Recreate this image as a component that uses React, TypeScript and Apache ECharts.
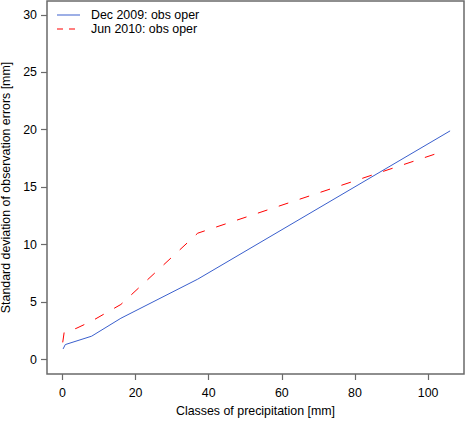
import React, { useEffect, useRef } from "react";
import * as echarts from "echarts";

const seriesNames = ["Dec 2009: obs oper", "Jun 2010: obs oper"];
const decX = [0.2, 0.8, 8, 16, 37, 106];
const decY = [0.93, 1.31, 2.04, 3.6, 7.0, 19.9];
const junX = [0.1, 0.5, 2, 4, 8, 16, 37, 103];
const junY = [1.5, 2.4, 2.5, 2.75, 3.35, 4.8, 11.0, 18.0];
const xTicks = [0, 20, 40, 60, 80, 100];
const yTicks = [0, 5, 10, 15, 20, 25, 30];
const xTitle = "Classes of precipitation [mm]";
const yTitle = "Standard deviation of observation errors [mm]";

const FONT = "Liberation Sans, Arial, Helvetica, sans-serif";
const FS = 12.4;
const AXIS_COLOR = "#6a6a6a";
const BLUE = "#3a5fcd";
const RED = "#ff0000";

export default function App() {
  const ref = useRef<HTMLDivElement>(null);
  useEffect(() => {
    if (!ref.current) return;
    const chart = echarts.init(ref.current, null, { renderer: "svg" });
    const pairs = (xs: number[], ys: number[]) => xs.map((x, i) => [x, ys[i]]);
    chart.setOption({
      animation: false,
      textStyle: { fontFamily: FONT },
      grid: {
        left: 47,
        right: 2,
        top: 1,
        bottom: 47,
        show: true,
        borderColor: AXIS_COLOR,
        borderWidth: 1.5,
        containLabel: false,
        outerBoundsMode: "none",
      },
      legend: {
        orient: "vertical",
        left: 57,
        top: 8,
        padding: 0,
        itemGap: 0,
        itemWidth: 23,
        itemHeight: 1,
        itemStyle: { borderWidth: 0 },
        textStyle: { fontSize: FS, color: "#000", fontFamily: FONT, padding: [0, 0, 0, 6], lineHeight: 14 },
        data: [
          { name: seriesNames[0], icon: "path://M0,0H23V1H0Z" },
          { name: seriesNames[1], icon: "path://M0,0H6V1H0ZM12,0H18V1H12ZM23,0L23,1Z" },
        ],
      },
      xAxis: {
        type: "value",
        min: -4.2,
        max: 109.8,
        name: xTitle,
        nameLocation: "middle",
        nameGap: 31,
        nameTextStyle: { fontSize: FS, color: "#000", fontFamily: FONT },
        axisLine: { show: false, onZero: false },
        splitLine: { show: false },
        axisTick: {
          show: true,
          length: 6,
          lineStyle: { color: AXIS_COLOR, width: 1.2 },
          customValues: xTicks,
        },
        axisLabel: {
          fontSize: FS,
          color: "#000",
          margin: 13,
          fontFamily: FONT,
          customValues: xTicks,
        },
      },
      yAxis: {
        type: "value",
        min: -1.25,
        max: 31.2,
        name: yTitle,
        nameLocation: "middle",
        nameGap: 33,
        nameRotate: 90,
        nameTextStyle: { fontSize: FS, color: "#000", fontFamily: FONT },
        axisLine: { show: false, onZero: false },
        splitLine: { show: false },
        axisTick: {
          show: true,
          length: 6,
          lineStyle: { color: AXIS_COLOR, width: 1.2 },
          customValues: yTicks,
        },
        axisLabel: {
          fontSize: FS,
          color: "#000",
          margin: 10,
          fontFamily: FONT,
          customValues: yTicks,
        },
      },
      series: [
        {
          name: seriesNames[0],
          type: "line",
          data: pairs(decX, decY),
          symbol: "none",
          showSymbol: false,
          color: BLUE,
          lineStyle: { color: BLUE, width: 1 },
        },
        {
          name: seriesNames[1],
          type: "line",
          data: pairs(junX, junY),
          symbol: "none",
          showSymbol: false,
          color: RED,
          lineStyle: { color: RED, width: 1, type: [10, 12] },
        },
      ],
    });
    return () => chart.dispose();
  }, []);
  return <div ref={ref} style={{ width: 466, height: 421, position: "absolute", left: 0, top: 0 }} />;
}
